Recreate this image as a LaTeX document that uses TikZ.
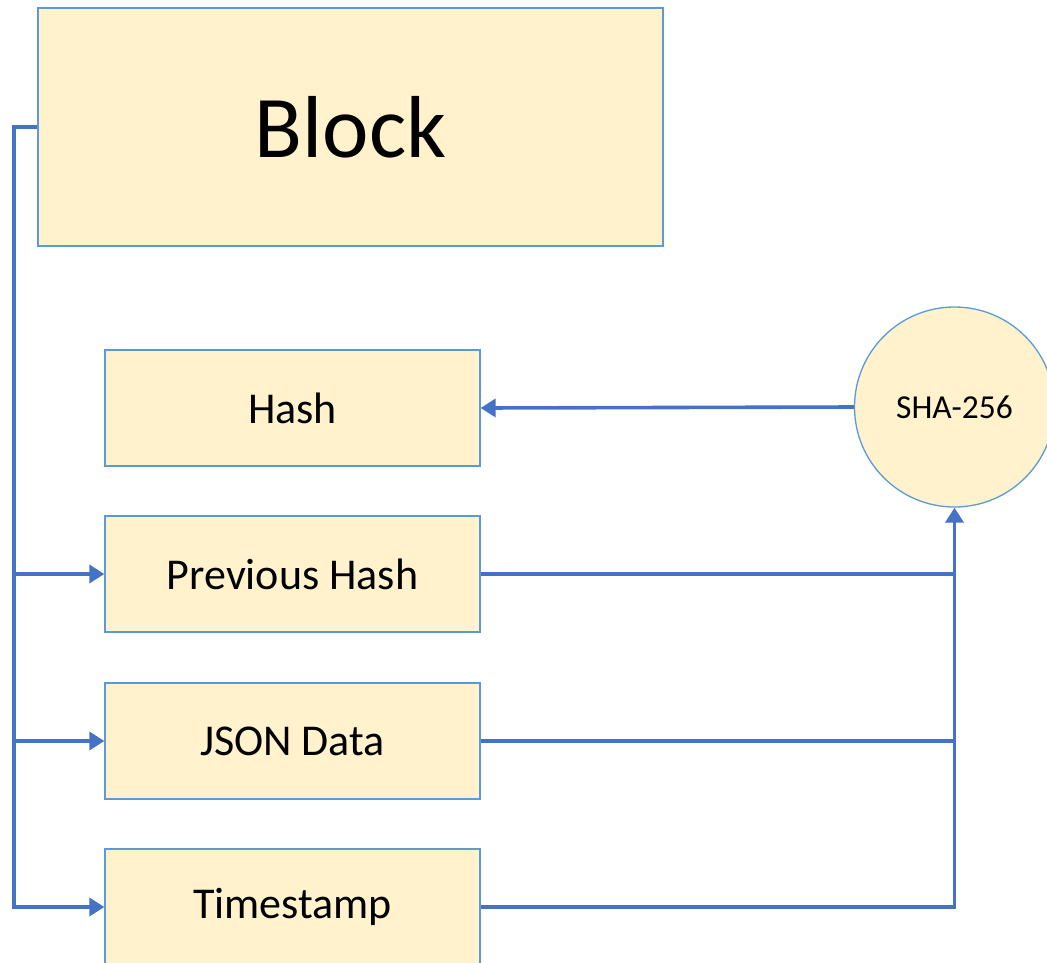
\documentclass[tikz,border=0pt]{standalone}
\usepackage{fontspec}
\setmainfont{Carlito}
\usetikzlibrary{arrows.meta}
\definecolor{boxfill}{HTML}{FFF2CC}
\definecolor{boxline}{HTML}{5B9BD5}
\definecolor{conn}{HTML}{4472C4}
\tikzset{
  fieldbox/.style={draw=boxline, line width=1.3pt, fill=boxfill, minimum width=375pt, minimum height=116pt, inner sep=0pt, font=\fontsize{44}{50}\selectfont},
  connline/.style={draw=conn, line width=3.6pt},
  connarrow/.style={connline, -{Triangle[length=15pt,width=18pt]}}
}
\begin{document}
\begin{tikzpicture}[x=1pt,y=-1pt]
\useasboundingbox (0,0) rectangle (1047,962);
\node[draw=boxline, line width=1.3pt, fill=boxfill, minimum width=625pt, minimum height=238pt, inner sep=0pt, font=\fontsize{88}{100}\selectfont] (block) at (350.5,127) {Block};
\node[fieldbox] (hash) at (292.5,408) {Hash};
\node[fieldbox] (prev) at (292.5,574) {Previous Hash};
\node[fieldbox] (json) at (292.5,741) {JSON Data};
\node[fieldbox] (ts) at (292.5,907) {Timestamp};
\node[circle, draw=boxline, line width=1.3pt, fill=boxfill, minimum size=200pt, inner sep=0pt, font=\fontsize{33.5}{38}\selectfont] (sha) at (954.5,407) {SHA-256};
\coordinate (bus) at (14,127);
% left bus
\draw[connarrow] (block.west) -- (bus) |- (ts.west);
\draw[connarrow] (bus |- prev.west) -- (prev.west);
\draw[connarrow] (bus |- json.west) -- (json.west);
% right bus
\draw[connline] (prev.east) -- (prev.east -| sha.south);
\draw[connline] (json.east) -- (json.east -| sha.south);
\draw[connarrow] (ts.east) -| (sha.south);
\draw[connarrow] (sha.west) -- (hash.east);
\end{tikzpicture}
\end{document}
